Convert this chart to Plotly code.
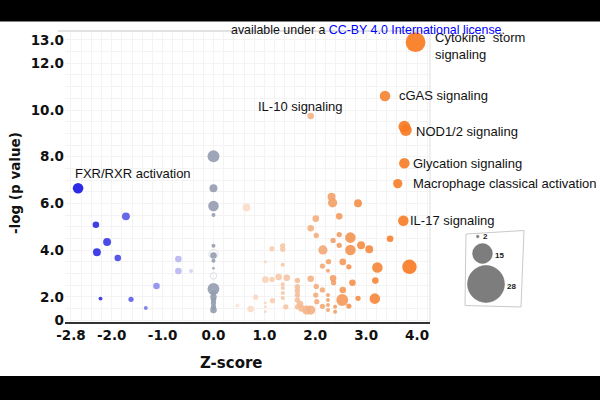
import plotly.graph_objects as go

# ---------------- data ----------------
# labelled pathways: z-score, -log(p), molecules
label_names = ["Cytokine  storm<br>signaling", "cGAS signaling", "IL-10 signaling", "NOD1/2 signaling",
               "Glycation signaling", "Macrophage classical activation", "IL-17 signaling",
               "FXR/RXR activation"]
label_z = [3.97, 3.37, 1.91, 3.75, 3.75, 3.62, 3.73, -2.66]
label_p = [12.9, 10.6, 9.74, 9.29, 7.72, 6.85, 5.26, 6.65]
label_n = [15, 8, 5, 9, 8, 7, 8, 8]

# negative z-score pathways (unlabelled)
neg_z = [-2.31, -1.72, -2.09, -2.29, -1.88, -1.12, -2.22, -1.62, -1.33, -0.69, -0.69, -0.44]
neg_p = [5.09, 5.45, 4.35, 3.91, 3.67, 2.47, 1.93, 1.90, 1.53, 3.62, 3.11, 3.11]
neg_n = [5, 6, 6, 6, 5, 5, 3, 4, 3, 5, 5, 3]

# z = 0 pathways
zero_p = [8.02, 6.65, 5.89, 5.51, 4.19, 3.77, 3.55, 3.23, 2.34, 2.17, 2.00, 1.87, 1.74, 1.58, 1.44]
zero_n = [9, 6, 8, 3, 3, 5, 3, 2, 9, 4, 5, 4, 4, 4, 5]
ring_p = [3.83, 2.90]
ring_n = [7, 5]

# positive z-score pathways (unlabelled)
pos_z = [3.78, 0.65, 2.32, 2.34, 2.84, 2.01, 2.47, 1.91, 2.02, 2.47, 2.35, 2.69, 2.47, 2.15, 2.69, 2.90,
         3.06, 3.47, 1.15, 1.36, 1.36, 1.02, 1.36, 2.14, 2.26, 2.54, 2.66, 3.22, 3.85, 3.18, 2.25, 1.91,
         2.35, 2.36, 2.73, 2.02, 1.02, 1.15, 1.28, 1.44, 1.65, 1.36, 1.36, 1.36, 1.36, 1.65, 1.65, 1.65,
         1.65, 1.65, 2.14, 2.54, 2.25, 2.25, 2.25, 2.25, 2.53, 2.66, 2.84, 3.17, 2.39, 2.39, 2.14, 0.83,
         0.47, 0.73, 1.02, 1.02, 1.02, 1.16, 1.42, 1.70, 1.73, 1.83, 1.91, 2.01, 2.03]
pos_p = [9.14, 5.83, 6.29, 6.03, 6.01, 5.35, 5.45, 4.94, 4.63, 4.67, 4.42, 4.54, 4.21, 4.01, 4.01, 4.21,
         4.04, 4.49, 4.06, 4.19, 4.04, 3.50, 3.38, 3.32, 3.51, 3.50, 3.29, 3.26, 3.29, 2.70, 3.12, 2.78,
         2.80, 2.61, 2.61, 2.45, 2.74, 2.75, 2.85, 2.82, 2.71, 2.54, 2.38, 2.17, 1.96, 2.44, 2.27, 2.08,
         1.87, 1.58, 2.30, 2.30, 2.08, 1.87, 1.66, 1.44, 1.87, 1.61, 1.94, 1.93, 1.58, 1.37, 1.60, 1.99,
         1.64, 1.48, 1.75, 1.58, 1.37, 1.84, 1.58, 1.70, 1.51, 1.44, 1.44, 2.08, 1.80]
pos_n = [9, 6, 6, 7, 6, 5, 5, 5, 4, 4, 4, 8, 4, 7, 8, 6,
         6, 5, 4, 4, 4, 2, 3, 4, 4, 5, 4, 8, 11, 5, 3, 5,
         5, 4, 5, 4, 5, 4, 5, 5, 4, 3, 3, 3, 3, 4, 4, 4,
         4, 4, 4, 5, 3, 3, 3, 3, 9, 4, 4, 8, 3, 3, 4, 4,
         3, 5, 2, 2, 2, 4, 4, 5, 5, 7, 7, 4, 4]

legend_counts = [2, 15, 28]

x_ticks = [-2.8, -2.0, -1.0, 0.0, 1.0, 2.0, 3.0, 4.0]
x_ticktext = ["-2.8", "-2.0", "-1.0", "0.0", "1.0", "2.0", "3.0", "4.0"]
y_ticks = [1.0, 2, 4, 6, 8, 10, 12, 13]
y_ticktext = ["0", "2.0", "4.0", "6.0", "8.0", "10.0", "12.0", "13.0"]

# ---------------- styling helpers ----------------
W, H = 600, 400
def PX(x): return x / W
def PY(y): return 1 - y / H

SCALE = 1.32  # px diameter per molecule
colorscale = [
    [0.0, "#0d0de6"], [0.1176, "#3c3ce2"], [0.2353, "#8585ec"], [0.3529, "#d4d4f6"],
    [0.4118, "#eeeeee"], [0.4853, "#fce2d3"], [0.5588, "#f9d2b7"], [0.6471, "#f5be99"],
    [0.7353, "#f3a571"], [0.8235, "#f48f48"], [0.9118, "#f68130"], [1.0, "#f8761a"],
]

all_z = label_z + neg_z + pos_z
all_p = label_p + neg_p + pos_p
all_n = label_n + neg_n + pos_n
order = sorted(range(len(all_z)), key=lambda i: -all_n[i])

fig = go.Figure()

# z = 0 (grey)
fig.add_trace(go.Scatter(
    x=[0.0] * len(zero_p), y=zero_p, mode="markers", hoverinfo="skip",
    marker=dict(size=zero_n, sizemode="diameter", sizeref=1 / SCALE, color="#939cb0",
                opacity=0.9, line=dict(width=0))))
fig.add_trace(go.Scatter(
    x=[0.0] * len(ring_p), y=ring_p, mode="markers", hoverinfo="skip",
    marker=dict(size=ring_n, sizemode="diameter", sizeref=1 / SCALE, symbol="circle-open",
                color="#cfd3db", line=dict(width=1))))

fig.add_trace(go.Scatter(
    x=[all_z[i] for i in order], y=[all_p[i] for i in order], mode="markers",
    marker=dict(size=[all_n[i] for i in order], sizemode="diameter", sizeref=1 / SCALE,
                color=[all_z[i] for i in order], colorscale=colorscale, cmin=-2.8, cmax=4.0,
                opacity=0.9, line=dict(width=0))))

# pathway labels (offsets in px from their bubble)
label_offsets = [(17, -4, "left"), (12, 0, "left"), (-10, 10, "center"), (10, -5, "left"),
                 (7, 0, "left"), (13, 0, "left"), (5, 0, "left"), (-5, 15, "left")]
for name, zz, pp, (dx, dy, anc) in zip(label_names, label_z, label_p, label_offsets):
    fig.add_annotation(x=zz, y=pp, xref="x", yref="y", text=name, showarrow=False,
                       xanchor=anc, yanchor="middle", xshift=dx, yshift=dy, align="left",
                       font=dict(family="Liberation Sans, Arial", size=13, color="#111111"))

# axis titles
fig.add_annotation(x=PX(231), y=PY(363), xref="paper", yref="paper", text="Z-score",
                   showarrow=False, xanchor="center", yanchor="middle",
                   font=dict(family="DejaVu Sans", size=15, color="#111111", weight="bold"))
fig.add_annotation(x=PX(15), y=PY(183), xref="paper", yref="paper", text="-log (p value)",
                   showarrow=False, textangle=-90, xanchor="center", yanchor="middle",
                   font=dict(family="DejaVu Sans", size=13.5, color="#111111", weight="bold"))

# bubble-size key (tilted box)
box = [(466, 234), (524, 230.5), (521, 307), (465, 305.5)]
path = "M " + " L ".join(f"{PX(a)},{PY(b)}" for a, b in box) + " Z"
shapes = [dict(type="path", path=path, xref="paper", yref="paper",
               line=dict(color="#c9c9c9", width=1), fillcolor="white", layer="above")]
key_centres = [(477.7, 236.5), (482.5, 253.5), (486, 284)]
key_label_pos = [(481, 236.5), (493, 255.5), (505, 286)]
for cnt, (cx, cy), (lx, ly) in zip(legend_counts, key_centres, key_label_pos):
    r = cnt * SCALE / 2
    shapes.append(dict(type="circle", xref="paper", yref="paper",
                       x0=PX(cx - r), x1=PX(cx + r), y0=PY(cy + r), y1=PY(cy - r),
                       fillcolor="#7d7d7d", line=dict(color="#6a6a6a", width=0.5), layer="above"))
    fig.add_annotation(x=PX(lx), y=PY(ly), xref="paper", yref="paper", text=str(cnt),
                       showarrow=False, xanchor="left", yanchor="middle",
                       font=dict(family="Liberation Sans, Arial", size=8, color="#222222",
                                 weight="bold"))

# frame lines
shapes.append(dict(type="line", xref="paper", yref="paper", x0=PX(58), x1=PX(430),
                   y0=PY(31), y1=PY(31), line=dict(color="#c6c6c6", width=1)))
shapes.append(dict(type="line", xref="paper", yref="paper", x0=PX(430), x1=PX(430),
                   y0=PY(31), y1=PY(322), line=dict(color="#dedede", width=1)))
# letterbox bars
shapes.append(dict(type="rect", xref="paper", yref="paper", x0=0, x1=1, y0=PY(21.5), y1=1,
                   fillcolor="black", line=dict(width=0), layer="above"))
shapes.append(dict(type="rect", xref="paper", yref="paper", x0=0, x1=1, y0=0, y1=PY(376),
                   fillcolor="black", line=dict(width=0), layer="above"))

fig.add_annotation(x=PX(229), y=PY(30), xref="paper", yref="paper",
                   text='available under a <span style="color:#0000ff">CC-BY 4.0 International license</span>.',
                   showarrow=False, xanchor="left", yanchor="middle",
                   font=dict(family="Liberation Sans, Arial", size=12.4, color="#111111"))

fig.update_layout(
    width=W, height=H, margin=dict(l=0, r=0, t=0, b=0),
    paper_bgcolor="white", plot_bgcolor="white", showlegend=False,
    shapes=shapes,
    xaxis=dict(domain=[PX(65), PX(430)], range=[-2.917, 4.254], tickmode="array",
               tickvals=x_ticks, ticktext=x_ticktext, showgrid=False, zeroline=False,
               showline=True, linecolor="#333333", linewidth=1.5, ticks="", automargin=False,
               tickfont=dict(family="DejaVu Sans", size=13.5, color="#111111", weight="bold"),
               minor=dict(tickmode="linear", tick0=0, dtick=0.2, showgrid=True,
                          gridcolor="#f3f3f3", gridwidth=1)),
    yaxis=dict(domain=[PY(322), PY(31)], range=[0.929, 13.38], tickmode="array",
               tickvals=y_ticks, ticktext=y_ticktext, showgrid=False, zeroline=False,
               showline=False, ticks="", automargin=False,
               tickfont=dict(family="DejaVu Sans", size=13.5, color="#111111", weight="bold"),
               minor=dict(tickmode="linear", tick0=0, dtick=0.5, showgrid=True,
                          gridcolor="#f3f3f3", gridwidth=1)),
)

fig.write_html("out.html")
